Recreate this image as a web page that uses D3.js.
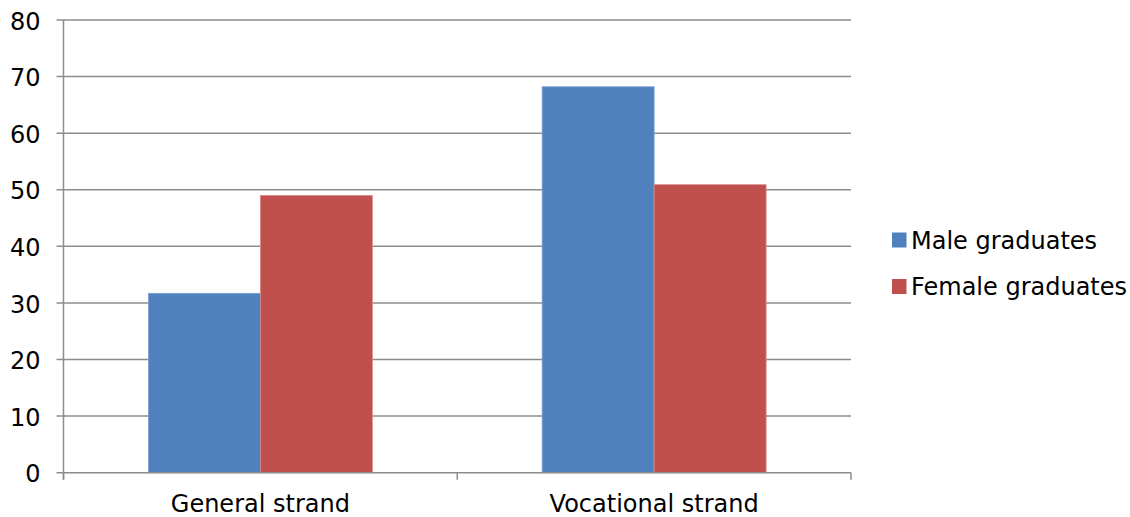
<!DOCTYPE html>
<html><head><meta charset="utf-8">
<script src="https://cdn.jsdelivr.net/npm/d3@7"></script>
<style>body{margin:0;background:#fff}svg{display:block}text{font-family:"DejaVu Sans",Verdana,sans-serif;fill:#000}</style>
</head><body>
<svg id="c" width="1130" height="517"></svg>
<script>
const categories = ["General strand", "Vocational strand"];
const seriesNames = ["Male graduates", "Female graduates"];
const maleValues = [31.7, 68.2];
const femaleValues = [49.0, 50.9];
const yTicks = [0, 10, 20, 30, 40, 50, 60, 70, 80];
const colors = ["#4F81BD", "#C0504D"];
const strokes = ["#7ea3d3", "#d98b89"];

(function () {
const svg = d3.select("#c");
const pLeft = 63.5, pRight = 851, pTop = 20, pBottom = 472.7;
const fs = 24;

const x0 = d3.scaleBand().domain(categories).range([pLeft, pRight]).paddingInner(0).paddingOuter(0);
const x1 = d3.scaleBand().domain(seriesNames).range([0, x0.bandwidth()]).paddingInner(0).paddingOuter(0.758);
const y = d3.scaleLinear().domain([0, 80]).range([pBottom, pTop]);

const grid = "#8c8c8c";
svg.append("g").selectAll("line").data(yTicks.filter(d => d > 0)).join("line")
  .attr("x1", pLeft - 7).attr("x2", pRight).attr("y1", d => y(d)).attr("y2", d => y(d))
  .attr("stroke", grid).attr("stroke-width", 1.5);

const data = categories.map((c, i) => ({cat: c, vals: [maleValues[i], femaleValues[i]]}));
const g = svg.append("g");
data.forEach(d => {
  d.vals.forEach((v, j) => {
    g.append("rect")
      .attr("x", x0(d.cat) + x1(seriesNames[j]))
      .attr("y", y(v))
      .attr("width", x1.bandwidth())
      .attr("height", y(0) - y(v))
      .attr("fill", colors[j])
      .attr("stroke", strokes[j]).attr("stroke-width", 0.8);
  });
});

svg.append("line").attr("x1", pLeft).attr("x2", pLeft).attr("y1", pTop).attr("y2", pBottom + 7)
  .attr("stroke", grid).attr("stroke-width", 1.5);
svg.append("line").attr("x1", pLeft - 7).attr("x2", pRight).attr("y1", pBottom).attr("y2", pBottom)
  .attr("stroke", grid).attr("stroke-width", 1.5);
const xt = [pLeft, ...categories.map(c => x0(c) + x0.bandwidth())];
svg.append("g").selectAll("line").data(xt).join("line")
  .attr("x1", d => d).attr("x2", d => d).attr("y1", pBottom).attr("y2", pBottom + 7)
  .attr("stroke", grid).attr("stroke-width", 1.5);

svg.append("g").selectAll("text").data(yTicks).join("text")
  .attr("x", 40.5).attr("y", d => y(d)).attr("dy", "0.4em")
  .attr("text-anchor", "end").attr("font-size", fs).text(d => d);

svg.append("g").selectAll("text").data(categories).join("text")
  .attr("x", d => x0(d) + x0.bandwidth() / 2).attr("y", 512)
  .attr("text-anchor", "middle").attr("font-size", fs).text(d => d);

const lg = svg.append("g");
seriesNames.forEach((s, i) => {
  const cy = 240 + i * 46.5;
  lg.append("rect").attr("x", 892).attr("y", cy - 7.5).attr("width", 14.5).attr("height", 15).attr("fill", colors[i]);
  lg.append("text").attr("x", 911).attr("y", cy).attr("dy", "0.37em").attr("font-size", fs).text(s);
});
})();
</script>
</body></html>
